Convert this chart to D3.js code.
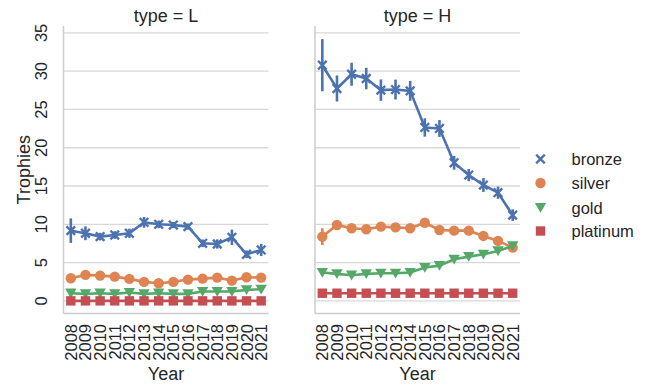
<!DOCTYPE html>
<meta charset="utf-8">
<html>
<head>
<script src="https://cdn.jsdelivr.net/npm/d3@7"></script>
<style>
body { margin: 0; background: #fff; }
text { font-family: "Liberation Sans", Arial, sans-serif; fill: #262626; }
</style>
</head>
<body>
<script>
var years = ["2008","2009","2010","2011","2012","2013","2014","2015","2016","2017","2018","2019","2020","2021"];
var types = ["L", "H"];
var medals = ["bronze", "silver", "gold", "platinum"];
var colors = ["#4c72b0", "#dd8452", "#55a868", "#c44e52"];
var yTicks = [0, 5, 10, 15, 20, 25, 30, 35];

// type = L
var bronzeL = [9.17, 8.83, 8.39, 8.6, 8.83, 10.26, 10.0, 9.9, 9.7, 7.52, 7.43, 8.3, 6.09, 6.65];
var silverL = [2.96, 3.39, 3.3, 3.17, 2.87, 2.48, 2.3, 2.48, 2.78, 2.91, 3.04, 2.65, 3.09, 3.04];
var goldL = [1.0, 0.91, 1.0, 0.91, 1.09, 0.91, 1.0, 0.91, 0.91, 1.22, 1.22, 1.22, 1.43, 1.52];
var platinumL = [0, 0, 0, 0, 0, 0, 0, 0, 0, 0, 0, 0, 0, 0];
var bronzeErrL = [1.6, 0.9, 0.5, 0.5, 0.6, 0.7, 0.5, 0.4, 0.4, 0.5, 0.6, 1.0, 0.5, 0.8];
var silverErrL = [0.2, 0.2, 0.2, 0.2, 0.2, 0.2, 0.2, 0.2, 0.2, 0.2, 0.2, 0.2, 0.2, 0.2];
var goldErrL = [0.15, 0.15, 0.15, 0.15, 0.15, 0.15, 0.15, 0.15, 0.15, 0.2, 0.2, 0.2, 0.2, 0.2];
var platinumErrL = [0, 0, 0, 0, 0, 0, 0, 0, 0, 0, 0, 0, 0, 0];

// type = H
var bronzeH = [30.78, 27.74, 29.6, 29.04, 27.52, 27.6, 27.43, 22.65, 22.52, 18.04, 16.43, 15.13, 14.13, 11.2];
var silverH = [8.39, 9.91, 9.48, 9.35, 9.7, 9.6, 9.48, 10.2, 9.26, 9.17, 9.17, 8.48, 7.83, 6.96];
var goldH = [3.7, 3.52, 3.35, 3.52, 3.6, 3.6, 3.7, 4.35, 4.6, 5.43, 5.78, 6.09, 6.52, 7.17];
var platinumH = [1, 1, 1, 1, 1, 1, 1, 1, 1, 1, 1, 1, 1, 1];
var bronzeErrH = [3.4, 1.7, 1.5, 1.4, 1.4, 1.3, 1.3, 1.2, 1.1, 0.9, 0.8, 0.9, 0.8, 0.75];
var silverErrH = [1.1, 0.35, 0.3, 0.3, 0.3, 0.3, 0.3, 0.3, 0.3, 0.3, 0.3, 0.3, 0.3, 0.3];
var goldErrH = [0.2, 0.2, 0.2, 0.2, 0.2, 0.2, 0.2, 0.2, 0.2, 0.25, 0.25, 0.25, 0.25, 0.25];
var platinumErrH = [0, 0, 0, 0, 0, 0, 0, 0, 0, 0, 0, 0, 0, 0];

var series = {
  L: { vals: [bronzeL, silverL, goldL, platinumL], errs: [bronzeErrL, silverErrL, goldErrL, platinumErrL] },
  H: { vals: [bronzeH, silverH, goldH, platinumH], errs: [bronzeErrH, silverErrH, goldErrH, platinumErrH] }
};

var width = 646, height = 384;
var plotTop = 26, plotBottom = 313.5;
var panels = [{ type: "L", x0: 63.5, x1: 268.5 }, { type: "H", x0: 315, x1: 520 }];

var svg = d3.select("body").append("svg")
    .attr("width", width)
    .attr("height", height);

var y = d3.scaleLinear().domain([-1.65, 35.9]).range([plotBottom, plotTop]);

function marker(g, i, color) {
  if (i == 0) {
    g.append("path").attr("d", "M-4.3,-4.3L4.3,4.3M-4.3,4.3L4.3,-4.3")
      .attr("stroke", color).attr("stroke-width", 2.4).attr("fill", "none");
  } else if (i == 1) {
    g.append("circle").attr("r", 5.2).attr("fill", color);
  } else if (i == 2) {
    g.append("path").attr("d", "M-5.7,-4.6L5.7,-4.6L0,5.2z").attr("fill", color);
  } else {
    g.append("rect").attr("x", -4.7).attr("y", -4.7).attr("width", 9.4).attr("height", 9.4).attr("fill", color);
  }
}

panels.forEach(function(p, pi) {
  var x = d3.scalePoint().domain(years).range([p.x0, p.x1]).padding(0.5);
  var g = svg.append("g");

  // grid
  g.selectAll(".grid").data(yTicks).enter().append("line")
    .attr("x1", p.x0).attr("x2", p.x1)
    .attr("y1", function(d) { return y(d); }).attr("y2", function(d) { return y(d); })
    .attr("stroke", "#d8d8d8").attr("stroke-width", 1.3);

  // spines
  g.append("line").attr("x1", p.x0).attr("x2", p.x0).attr("y1", plotTop).attr("y2", plotBottom)
    .attr("stroke", "#cccccc").attr("stroke-width", 1.5);
  g.append("line").attr("x1", p.x0).attr("x2", p.x1).attr("y1", plotBottom).attr("y2", plotBottom)
    .attr("stroke", "#cccccc").attr("stroke-width", 1.5);

  // title
  g.append("text")
    .attr("x", (p.x0 + p.x1) / 2).attr("y", 22)
    .attr("text-anchor", "middle")
    .style("font-size", "18px")
    .text("type = " + p.type);

  // x tick labels
  g.selectAll(".xt").data(years).enter().append("text")
    .attr("text-anchor", "end")
    .attr("transform", function(d) { return "translate(" + (x(d) + 6) + ",324)rotate(-90)"; })
    .style("font-size", "16.5px")
    .text(function(d) { return d; });

  g.append("text")
    .attr("x", (p.x0 + p.x1) / 2).attr("y", 380)
    .attr("text-anchor", "middle")
    .style("font-size", "18px")
    .text("Year");

  if (pi == 0) {
    g.selectAll(".yt").data(yTicks).enter().append("text")
      .attr("text-anchor", "middle")
      .attr("transform", function(d) { return "translate(47," + y(d) + ")rotate(-90)"; })
      .style("font-size", "16.5px")
      .text(function(d) { return d; });
    g.append("text")
      .attr("text-anchor", "middle")
      .attr("transform", "translate(29.5," + ((plotTop + plotBottom) / 2) + ")rotate(-90)")
      .style("font-size", "18px")
      .text("Trophies");
  }

  var s = series[p.type];
  medals.forEach(function(m, i) {
    var vals = s.vals[i], errs = s.errs[i], color = colors[i];
    var sg = g.append("g");
    sg.selectAll(".err").data(years).enter().append("line")
      .attr("x1", function(d) { return x(d); }).attr("x2", function(d) { return x(d); })
      .attr("y1", function(d, j) { return y(vals[j] - errs[j]); })
      .attr("y2", function(d, j) { return y(vals[j] + errs[j]); })
      .attr("stroke", color).attr("stroke-width", 2.6);
    sg.append("path")
      .datum(years)
      .attr("fill", "none").attr("stroke", color).attr("stroke-width", 2.6)
      .attr("d", d3.line().x(function(d) { return x(d); }).y(function(d, j) { return y(vals[j]); }));
    years.forEach(function(d, j) {
      var mg = sg.append("g").attr("transform", "translate(" + x(d) + "," + y(vals[j]) + ")");
      marker(mg, i, color);
    });
  });
});

// legend
var legendY = [159, 183, 207.5, 231];
medals.forEach(function(m, i) {
  var lg = svg.append("g").attr("transform", "translate(540.5," + legendY[i] + ")");
  marker(lg, i, colors[i]);
  lg.append("text").attr("x", 31).attr("y", 6)
    .style("font-size", "16.5px")
    .text(m);
});
</script>
</body>
</html>
